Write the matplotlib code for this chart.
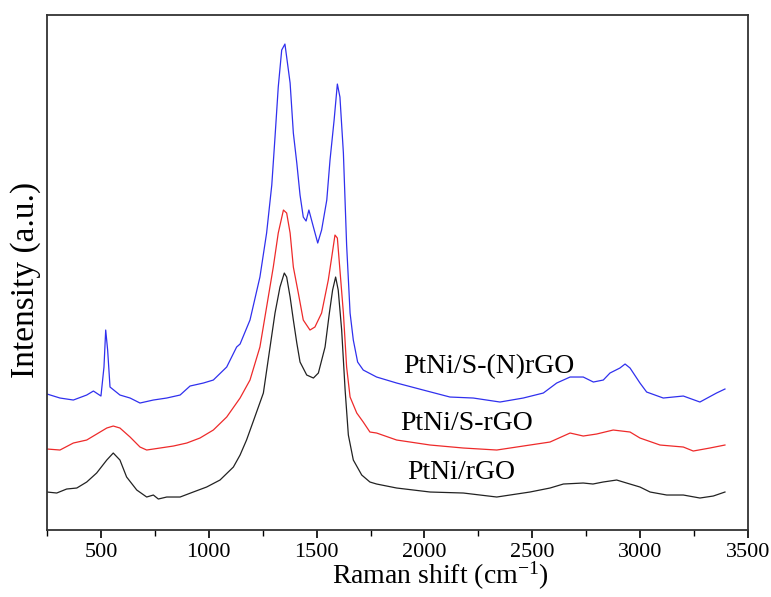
import numpy as np
import matplotlib
matplotlib.use("Agg")
import matplotlib.pyplot as plt

plt.rcParams["font.family"] = ["Liberation Serif", "DejaVu Serif"]
plt.rcParams["mathtext.default"] = "regular"

# Raman spectra (intensity in arbitrary units, offset stacked)
black_x = [250, 295, 341, 388, 434, 480, 527, 557, 588, 619, 666, 712, 743, 766, 805,
           867, 928, 990, 1052, 1114, 1145, 1175, 1205, 1253, 1284, 1307, 1330, 1350,
           1361, 1377, 1392, 1408, 1423, 1454, 1485, 1508, 1539, 1559, 1574, 1588,
           1600, 1616, 1632, 1647, 1670, 1709, 1747, 1778, 1871, 2026, 2180, 2335,
           2489, 2582, 2644, 2736, 2781, 2828, 2891, 2937, 2999, 3046, 3123, 3200,
           3277, 3339, 3393]
black_y = [38, 37, 41, 42, 48, 57, 70, 77, 70, 53, 40, 33, 35, 31, 33,
           33, 38, 43, 50, 63, 75, 90, 108, 137, 183, 217, 243, 257,
           253, 233, 210, 187, 168, 155, 152, 157, 183, 217, 240, 253,
           240, 200, 140, 95, 70, 55, 48, 46, 42, 38, 37, 33,
           38, 42, 46, 47, 46, 48, 50, 47, 43, 38, 35, 35,
           32, 34, 38]

red_x = [250, 310, 372, 434, 496, 527, 557, 588, 635, 681, 712, 774, 836, 898, 959,
         1021, 1083, 1145, 1191, 1237, 1268, 1299, 1322, 1346, 1361, 1377, 1392,
         1415, 1438, 1469, 1492, 1523, 1554, 1570, 1585, 1596, 1608, 1624, 1639,
         1655, 1686, 1716, 1747, 1778, 1871, 2026, 2180, 2335, 2489, 2582, 2675,
         2736, 2798, 2875, 2953, 2999, 3092, 3200, 3246, 3323, 3393]
red_y = [81, 80, 87, 90, 98, 102, 104, 102, 93, 83, 80, 82, 84, 87, 92,
         100, 113, 132, 150, 183, 223, 263, 297, 320, 317, 297, 263,
         237, 210, 200, 203, 217, 250, 273, 295, 292, 260, 217, 163,
         133, 117, 108, 98, 97, 90, 85, 82, 80, 85, 88, 97,
         94, 96, 100, 98, 92, 85, 83, 79, 82, 85]

blue_x = [250, 310, 372, 434, 465, 500, 514, 522, 531, 542, 588, 635, 681, 743, 805,
          867, 913, 975, 1021, 1083, 1129, 1145, 1191, 1237, 1268, 1292, 1307, 1322,
          1338, 1353, 1377, 1392, 1408, 1423, 1438, 1451, 1464, 1485, 1505, 1523,
          1547, 1562, 1581, 1596, 1608, 1624, 1639, 1655, 1670, 1690, 1716, 1778,
          1871, 1994, 2118, 2226, 2350, 2458, 2551, 2613, 2675, 2736, 2783, 2829,
          2860, 2906, 2930, 2953, 2999, 3030, 3107, 3200, 3277, 3354, 3393]
blue_y = [136, 132, 130, 135, 139, 134, 163, 200, 180, 143, 135, 132, 127, 130, 132,
          135, 144, 147, 150, 163, 183, 186, 210, 253, 297, 345, 393, 443,
          480, 486, 447, 397, 367, 335, 313, 309, 320, 303, 287, 300,
          330, 370, 410, 446, 433, 377, 285, 217, 190, 168, 160, 153,
          147, 140, 133, 132, 128, 132, 137, 147, 153, 153, 148, 150,
          157, 162, 166, 162, 147, 138, 132, 134, 128, 137, 141]

labels = ["PtNi/S-(N)rGO", "PtNi/S-rGO", "PtNi/rGO"]
label_x = [1900, 1886, 1919]
label_y = [163, 107, 58]

fig = plt.figure(figsize=(7.71, 5.97), dpi=100)
ax = fig.add_axes([0.061, 0.1122, 0.9092, 0.8626])

ax.plot(black_x, black_y, color="#222222", lw=0.9)
ax.plot(red_x, red_y, color="#ee2a2a", lw=0.9)
ax.plot(blue_x, blue_y, color="#3030ee", lw=0.9)

for s, lx, ly in zip(labels, label_x, label_y):
    ax.text(lx, ly, s, fontsize=20, ha="left", va="center")

ax.set_xlim(250, 3500)
ax.set_ylim(0, 515)
ax.set_xticks(np.arange(500, 3501, 500))
ax.set_xticks(np.arange(250, 3501, 250), minor=True)
ax.set_yticks([])
ax.tick_params(axis="x", which="major", direction="out", length=6, width=1.2,
               labelsize=16, pad=3)
ax.tick_params(axis="x", which="minor", direction="out", length=4, width=1.0)
for sp in ax.spines.values():
    sp.set_linewidth(1.3)
    sp.set_color("#333333")

ax.set_xlabel("Raman shift (cm$^{-1}$)", fontsize=20)
ax.xaxis.set_label_coords(0.561, -0.058)
ax.set_ylabel("Intensity (a.u.)", fontsize=24)
ax.yaxis.set_label_coords(-0.008, 0.485)

fig.savefig("out.png", dpi=100)
